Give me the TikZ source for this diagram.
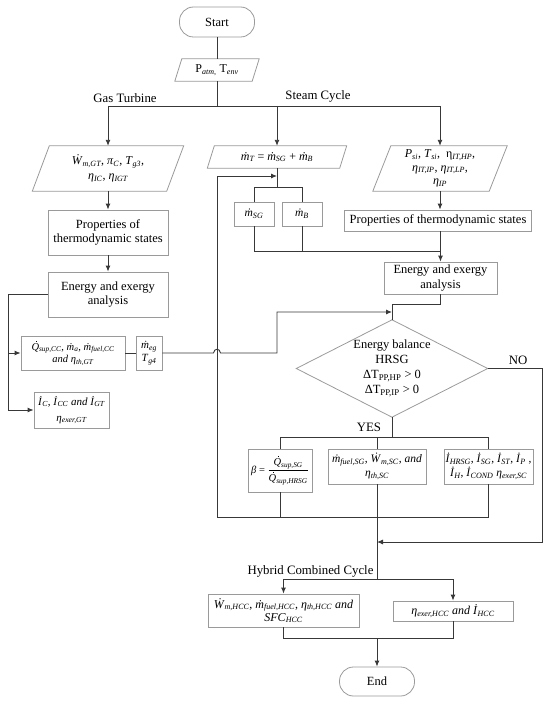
\documentclass[tikz,border=0pt]{standalone}
\usepackage{fontspec}
\setmainfont{Liberation Serif}
\usetikzlibrary{arrows.meta,calc}
\newcommand\dQ{\makebox[0pt][l]{\hspace{0.40em}\raisebox{0.80em}{\rule{0.12em}{0.12em}}}\textit{Q}}
\newcommand\dm{\textit{ṁ}}
\newcommand\dW{\textit{Ẇ}}
\newcommand\dI{\textit{İ}}
\newcommand\sbi[1]{\textsubscript{\itshape #1}}
\definecolor{boxc}{HTML}{9A9A9A}
\definecolor{linec}{HTML}{383838}
\begin{document}
\begin{tikzpicture}[x=1pt,y=-1pt,
  box/.style={draw=boxc, line width=0.8pt, align=center, inner sep=1pt, font=\fontsize{12.5}{14.5}\selectfont},
  term/.style={box, rounded corners=14pt},
  para/.style={align=center, inner sep=0pt, font=\fontsize{12}{14.5}\selectfont},
  pbox/.style={draw=boxc, line width=0.8pt},
  conn/.style={draw=linec, line width=0.9pt},
  arr/.style={conn, -{Latex[length=6pt,width=5pt]}},
  lbl/.style={font=\fontsize{12.8}{14}\selectfont, inner sep=0pt}
]
\useasboundingbox (0,0) rectangle (550,706);

% ---------- top ----------
\node[term, minimum width=75pt, minimum height=30pt] (start) at (217,22) {Start};
\node[para, minimum width=84pt, minimum height=22pt] (patm) at (217,70) {P\sbi{atm,} T\sbi{env}};
\draw[pbox] ($(patm.north west)+(7,0)$) -- (patm.north east) -- ($(patm.south east)-(7,0)$) -- (patm.south west) -- cycle;

\coordinate (bar) at (217,106);
\node[lbl] (lgt) at (125,98) {Gas Turbine};
\node[lbl] (lsc) at (318,96) {Steam Cycle};

% ---------- gas turbine column ----------
\node[para, minimum width=151pt, minimum height=45pt] (gt) at (108,168.5)
  {\dW\sbi{m,GT}, \textit{π}\sbi{C}, \textit{T}\sbi{g3},\\ \textit{η}\sbi{IC}, \textit{η}\sbi{IGT}};
\draw[pbox] ($(gt.north west)+(17,0)$) -- (gt.north east) -- ($(gt.south east)-(17,0)$) -- (gt.south west) -- cycle;

\node[box, minimum width=120pt, minimum height=45pt] (propgt) at (108,232.5) {Properties of\\thermodynamic states};
\node[box, minimum width=120pt, minimum height=45pt] (eeagt) at (108,294.5) {Energy and exergy\\analysis};

\node[box, minimum width=104pt, minimum height=34pt, font=\fontsize{10.5}{12.5}\selectfont] (qbox) at (73,353)
  {\dQ\sbi{sup,CC}, \dm\sbi{a}, \dm\sbi{fuel,CC}\\ \textit{and} \textit{η}\sbi{th,GT}};
\node[box, minimum width=26pt, minimum height=34pt, inner sep=0pt, font=\fontsize{11}{13}\selectfont] (meg) at (149,353)
  {\dm\sbi{eg}\\ \textit{T}\sbi{g4}};
\node[box, minimum width=75pt, minimum height=36pt, font=\fontsize{11}{16}\selectfont] (ibox) at (71.5,410)
  {\dI\sbi{C}, \dI\sbi{CC} \textit{and} \dI\sbi{GT}\\ \textit{η}\sbi{exer,GT}};

% ---------- steam cycle column ----------
\node[para, minimum width=139pt, minimum height=22pt] (mT) at (277,157)
  {\dm\sbi{T} = \dm\sbi{SG} + \dm\sbi{B}};
\draw[pbox] ($(mT.north west)+(7,0)$) -- (mT.north east) -- ($(mT.south east)-(7,0)$) -- (mT.south west) -- cycle;

\node[box, minimum width=40pt, minimum height=24pt, font=\fontsize{11.5}{13}\selectfont] (msg) at (254,214) {\dm\sbi{SG}};
\node[box, minimum width=40pt, minimum height=24pt, font=\fontsize{11.5}{13}\selectfont] (mb) at (302,214) {\dm\sbi{B}};

\node[para, minimum width=134pt, minimum height=45pt, font=\fontsize{12}{13.5}\selectfont] (psi) at (440,168.5)
  {\textit{P}\sbi{si}, \textit{T}\sbi{si},\ \ η\sbi{IT,HP},\\ \textit{η}\sbi{IT,IP}, \textit{η}\sbi{IT,LP},\\ \textit{η}\sbi{IP}};
\draw[pbox] ($(psi.north west)+(18,0)$) -- (psi.north east) -- ($(psi.south east)-(18,0)$) -- (psi.south west) -- cycle;

\node[box, minimum width=187pt, minimum height=21pt] (propsc) at (438,220.5) {Properties of thermodynamic states};
\node[box, minimum width=113pt, minimum height=32pt] (eeasc) at (440.5,278) {Energy and exergy\\analysis};

% ---------- diamond ----------
\node[minimum width=191pt, minimum height=97pt, inner sep=0pt, align=center, font=\fontsize{12.5}{15}\selectfont] (dia) at (392,368.5)
  {Energy balance\\HRSG\\ΔT\textsubscript{PP,HP} > 0\\ΔT\textsubscript{PP,IP} > 0};
\draw[pbox] (dia.north) -- (dia.east) -- (dia.south) -- (dia.west) -- cycle;
\node[lbl] (lno) at (518,360) {NO};
\node[lbl] (lyes) at (369,427) {YES};

\node[box, minimum width=64pt, minimum height=43pt, inner sep=0pt, font=\fontsize{10.5}{12}\selectfont] (beta) at (280,470.5)
  {\textit{β} = $\displaystyle\frac{\mbox{\dQ\sbi{sup,SG}}}{\mbox{\dQ\sbi{sup,HRSG}}}$};
\node[box, minimum width=98pt, minimum height=35pt, font=\fontsize{11.5}{14}\selectfont] (mfuel) at (377,466.5)
  {\dm\sbi{fuel,SG}, \dW\sbi{m,SC}, \textit{and}\\ \textit{η}\sbi{th,SC}};
\node[box, minimum width=89pt, minimum height=35pt, font=\fontsize{11.5}{14}\selectfont] (ibox2) at (488.5,466.5)
  {\dI\sbi{HRSG}, \dI\sbi{SG}, \dI\sbi{ST}, \dI\sbi{P} ,\\ \dI\sbi{H}, \dI\sbi{COND} \textit{η}\sbi{exer,SC}};

% ---------- hybrid combined cycle ----------
\node[lbl] (lhcc) at (310.5,571) {Hybrid Combined Cycle};
\node[box, minimum width=151pt, minimum height=33pt, font=\fontsize{12}{13}\selectfont] (whcc) at (283.5,610.5)
  {\dW\sbi{m,HCC}, \dm\sbi{fuel,HCC}, \textit{η}\sbi{th,HCC} \textit{and}\\ \textit{SFC}\sbi{HCC}};
\node[box, minimum width=120pt, minimum height=20pt, font=\fontsize{12}{13}\selectfont] (ehcc) at (453,611)
  {\textit{η}\sbi{exer,HCC} \textit{and} \dI\sbi{HCC}};
\node[term, minimum width=75pt, minimum height=29pt] (end) at (377,681.5) {End};

% ---------- coordinates ----------
\coordinate (lft) at (8,294.5);
\coordinate (j312) at (277,312);
\coordinate (jsplit) at (277,187);
\coordinate (jm) at (0,251);
\coordinate (jloop) at (217,176);
\coordinate (jbl) at (217,517);
\coordinate (jyes) at (392,437);
\coordinate (jno) at (542,542);
\coordinate (jh) at (377,579);
\coordinate (je) at (377,638);

% ---------- connectors ----------
\draw[conn] (start.south) -- (patm.north);
\draw[conn] (patm.south) -- (bar);
\draw[conn] (gt.north |- bar) -- (psi.north |- bar);
\draw[arr] (gt.north |- bar) -- (gt.north);
\draw[arr] (mT.north |- bar) -- (mT.north);
\draw[arr] (psi.north |- bar) -- (psi.north);

\draw[arr] (gt.south) -- (propgt.north);
\draw[arr] (propgt.south) -- (eeagt.north);
\draw[conn] (eeagt.west) -- (eeagt.west -| lft) -- (lft |- ibox.west);
\draw[arr] (lft |- ibox.west) -- (ibox.west);
\draw[arr] (lft |- qbox.west) -- (qbox.west);
\draw[conn] (qbox.east) -- (meg.west);
\draw[arr] (meg.east) -- (213.5,353) .. controls (214,348) and (220,348) .. (220.5,353) -- (277,353) -- (j312) -- (dia.north |- j312);

\draw[conn] (mT.south) -- (jsplit);
\draw[conn] (msg.north) -- (msg.north |- jsplit) -- (mb.north |- jsplit) -- (mb.north);
\draw[conn] (msg.south) -- (msg.south |- jm) -- (eeasc.north |- jm);
\draw[conn] (mb.south) -- (mb.south |- jm);
\draw[arr] (psi.south) -- (psi.south |- propsc.north);
\draw[arr] (propsc.south -| eeasc.north) -- (eeasc.north);
\draw[conn] (eeasc.south) -- ++(0,10) -| (dia.north);

\draw[arr] (jbl) -- (jloop) -- (mT.south |- jloop);

\draw[conn] (dia.south) -- (jyes);
\draw[conn] (beta.north) -- (beta.north |- jyes) -- (ibox2.north |- jyes) -- (ibox2.north);
\draw[conn] (mfuel.north) -- (mfuel.north |- jyes);
\draw[conn] (jbl) -- (ibox2.south |- jbl) -- (ibox2.south);
\draw[conn] (beta.south) -- (beta.south |- jbl);
\draw[conn] (mfuel.south) -- (jh);
\draw[arr] (dia.east) -| (jno) -- (mfuel.south |- jno);

\draw[conn] (whcc.north |- jh) -- (ehcc.north |- jh);
\draw[arr] (whcc.north |- jh) -- (whcc.north);
\draw[arr] (ehcc.north |- jh) -- (ehcc.north);
\draw[conn] (whcc.south) -- (whcc.south |- je) -- (ehcc.south |- je) -- (ehcc.south);
\draw[arr] (je) -- (end.north);
\end{tikzpicture}
\end{document}
